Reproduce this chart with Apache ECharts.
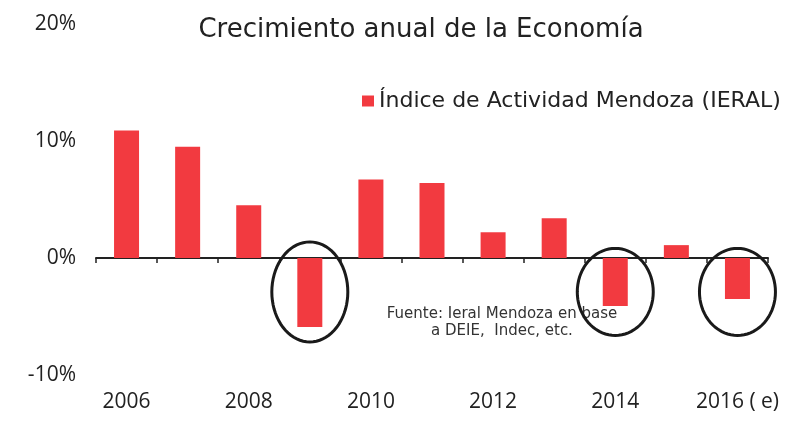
<!DOCTYPE html>
<html>
<head>
<meta charset="utf-8">
<script src="https://cdn.jsdelivr.net/npm/echarts@6/dist/echarts.min.js"></script>
<style>
  html, body { margin: 0; padding: 0; background: #fff; }
  #chart { width: 793px; height: 426px; }
</style>
</head>
<body>
<div id="chart"></div>
<script>
  // data
  var years = ['2006', '2007', '2008', '2009', '2010', '2011', '2012', '2013', '2014', '2015', '2016 ( e)'];
  var growth = [10.9, 9.5, 4.5, -5.9, 6.7, 6.4, 2.2, 3.4, -4.1, 1.1, -3.5];
  var circled = ['2009', '2014', '2016 ( e)'];

  var font = '"Open Sans", "DejaVu Sans", sans-serif';
  var wide = '"DejaVu Sans", sans-serif';

  var chart = echarts.init(document.getElementById('chart'));
  chart.setOption({
    animation: false,
    color: ['#f23a40'],
    title: {
      text: 'Crecimiento anual de la Economía',
      left: 416,
      top: 12,
      textAlign: 'center',
      textStyle: { fontFamily: wide, fontSize: 26, fontWeight: 'normal', color: '#222' }
    },
    legend: {
      data: ['Índice de Actividad Mendoza (IERAL)'],
      left: 357,
      top: 85,
      icon: 'rect',
      itemWidth: 12,
      itemHeight: 11,
      textStyle: { fontFamily: wide, fontSize: 22, color: '#222' }
    },
    grid: { left: 96, right: 25, top: 24, bottom: 51, outerBoundsMode: 'none' },
    xAxis: [{
      // line + ticks at zero
      type: 'category',
      data: years,
      axisLine: { onZero: true, lineStyle: { color: '#222', width: 2 } },
      axisTick: { show: true, interval: 0, length: 5, lineStyle: { color: '#222', width: 1.5 } },
      axisLabel: { show: false }
    }, {
      // labels at the bottom
      type: 'category',
      data: years,
      position: 'bottom',
      axisLine: { show: false, onZero: false },
      axisTick: { show: false },
      axisLabel: {
        interval: 1,
        fontFamily: font,
        fontSize: 21,
        color: '#222',
        margin: 17
      }
    }],
    yAxis: {
      type: 'value',
      min: -10,
      max: 20,
      interval: 10,
      axisLine: { show: false },
      axisTick: { show: false },
      splitLine: { show: false },
      axisLabel: {
        formatter: '{value}%',
        fontFamily: font,
        fontSize: 21,
        color: '#222',
        margin: 20,
        padding: [6, 0, 0, 0]
      }
    },
    series: [{
      name: 'Índice de Actividad Mendoza (IERAL)',
      type: 'bar',
      xAxisIndex: 0,
      barWidth: 25,
      data: growth
    }]
  });

  // ellipses around the negative years + source note
  function ellipse(cx, cy, rx, ry) {
    var pts = [];
    for (var i = 0; i < 72; i++) {
      var a = i / 72 * Math.PI * 2;
      pts.push([cx + rx * Math.cos(a), cy + ry * Math.sin(a)]);
    }
    return pts;
  }
  var els = circled.map(function (c, i) {
    var p = chart.convertToPixel({ xAxisIndex: 0, yAxisIndex: 0 }, [c, -2.9]);
    var ry = i === 0 ? 50 : 43.5;
    return {
      type: 'polygon',
      shape: { points: ellipse(p[0], p[1], 38, ry) },
      style: { fill: 'none', stroke: '#1a1a1a', lineWidth: 3 },
      z: 10
    };
  });
  els.push({
    type: 'text',
    x: 502,
    y: 306,
    style: {
      text: 'Fuente: Ieral Mendoza en base\na DEIE,  Indec, etc.',
      align: 'center',
      font: '15px ' + wide,
      fill: '#333',
      lineHeight: 17
    },
    z: 5
  });
  chart.setOption({ graphic: els });
</script>
</body>
</html>
